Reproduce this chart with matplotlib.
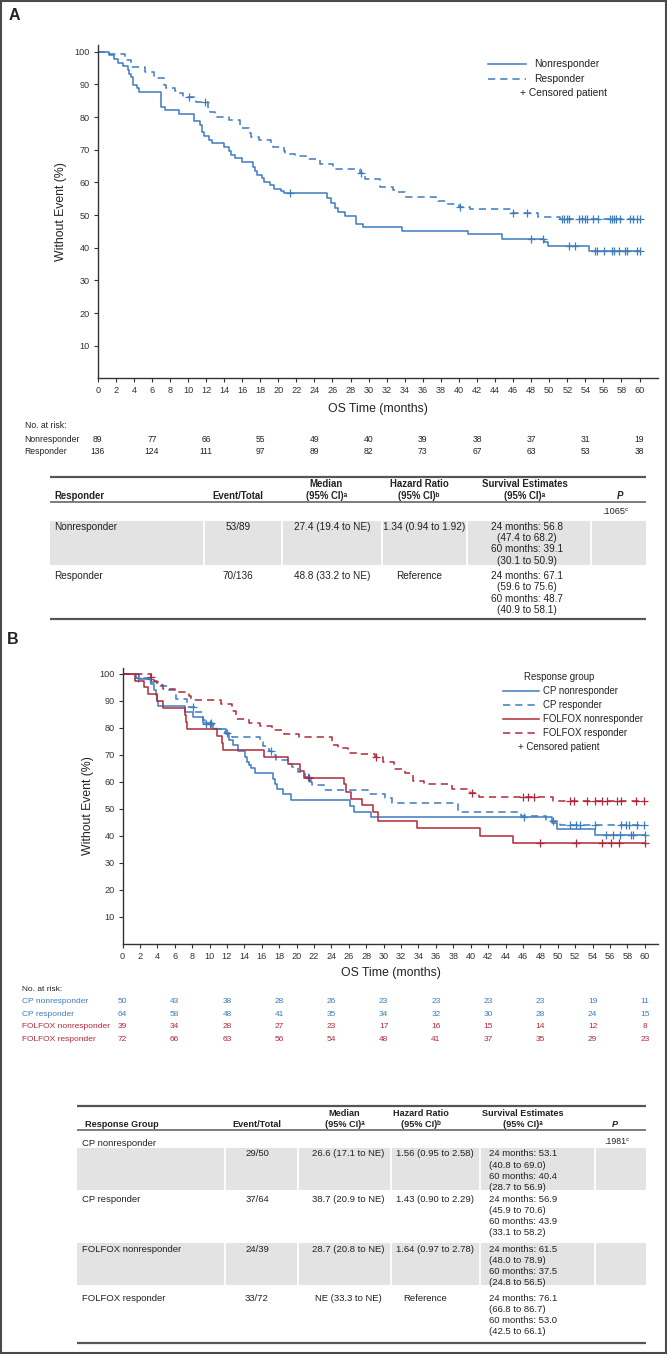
import numpy as np
import matplotlib
matplotlib.use("Agg")
import matplotlib.pyplot as plt
import matplotlib.transforms as mtransforms
from matplotlib.patches import Rectangle

plt.rcParams["font.family"] = ["Liberation Sans", "DejaVu Sans"]
plt.rcParams["lines.scale_dashes"] = False

# ------------------------------------------------------------------ data
# Panel A : step times (months) and survival (%) after each step
a_nr_time = [1.2, 1.8, 2.3, 2.8, 3.3, 3.5, 3.7, 3.9, 4.3, 4.6, 7.0, 7.5, 9.0,
             10.7, 11.3, 11.5, 11.8, 12.3, 12.7, 14.0, 14.5, 14.8, 15.2, 16.0,
             17.2, 17.4, 17.6, 18.2, 18.4, 19.1, 19.5, 20.3, 20.6, 25.4, 25.8,
             26.3, 26.6, 27.4, 28.6, 29.4, 33.7, 41.0, 44.8, 49.4, 49.9, 54.4]
a_nr_surv = [98.9, 97.8, 96.6, 95.5, 94.4, 93.3, 92.1, 89.9, 88.8, 87.6, 83.1,
             82.0, 80.9, 78.7, 77.5, 75.3, 74.2, 73.0, 71.9, 70.8, 69.7, 68.5,
             67.4, 66.1, 64.6, 63.4, 62.3, 61.2, 60.1, 59.1, 58.0, 57.4, 56.8,
             55.1, 53.6, 52.0, 51.0, 49.8, 47.4, 46.4, 45.2, 44.1, 42.8, 41.7,
             40.4, 39.1]
a_nr_cens = [21.3, 48.0, 49.3, 52.2, 52.9, 55.1, 55.3, 56.1, 57.0, 57.2, 57.7,
             58.4, 58.6, 59.7, 60.0]
a_r_time = [1.3, 3.0, 3.1, 3.7, 5.2, 6.2, 7.3, 7.6, 8.6, 8.9, 9.5, 10.9, 12.2,
            12.4, 13.0, 14.5, 15.8, 16.0, 16.8, 17.0, 17.9, 19.2, 19.4, 20.6,
            20.7, 21.9, 23.1, 24.6, 26.1, 26.3, 29.0, 29.6, 31.3, 32.7, 32.9,
            34.0, 37.5, 37.7, 38.7, 40.0, 41.2, 45.8, 48.8, 51.2]
a_r_surv = [99.3, 98.2, 97.5, 95.4, 93.9, 91.8, 89.8, 89.0, 88.1, 87.4, 86.0,
            84.5, 82.6, 81.6, 80.1, 79.1, 77.6, 76.5, 75.0, 74.0, 73.0, 71.6,
            70.9, 69.6, 68.6, 68.1, 67.1, 65.6, 64.6, 64.1, 62.8, 61.0, 58.7,
            57.7, 57.1, 55.6, 55.1, 54.3, 53.3, 52.6, 51.7, 50.5, 49.5, 48.7]
a_r_cens = [10.1, 11.9, 29.2, 40.1, 46.0, 47.5, 51.4, 51.6, 52.0, 52.2, 53.3,
            53.6, 54.0, 54.2, 54.8, 55.4, 56.7, 57.0, 57.2, 57.4, 57.8, 59.0,
            59.3, 59.7, 60.0]

# Panel B
b_cpnr_time = [1.9, 3.3, 3.6, 3.85, 4.0, 4.1, 7.2, 8.1, 9.2, 10.4, 11.9, 12.2,
               12.7, 13.3, 14.1, 14.3, 14.5, 14.8, 15.2, 17.3, 17.5, 17.8, 18.4,
               19.4, 26.1, 26.6, 28.6, 49.3, 49.9, 54.3]
b_cpnr_surv = [98.0, 96.0, 94.0, 92.0, 90.0, 88.0, 85.9, 83.8, 81.6, 79.5, 77.6,
               75.6, 73.5, 71.5, 69.3, 67.4, 66.2, 65.0, 63.3, 61.2, 59.3, 57.4,
               55.3, 53.1, 51.0, 49.0, 46.9, 44.9, 42.7, 40.4]
b_cpnr_cens = [3.2, 10.2, 46.1, 55.5, 56.3, 57.2, 58.4, 58.6, 60.0]
b_cpr_time = [1.5, 3.3, 4.2, 5.3, 6.1, 7.4, 8.3, 9.2, 9.5, 10.7, 11.8, 12.6,
              15.8, 16.1, 16.8, 17.2, 17.6, 19.2, 19.5, 20.2, 21.0, 21.6, 21.8,
              23.2, 28.2, 30.1, 31.0, 38.5, 45.8, 48.6, 50.2]
b_cpr_surv = [98.4, 96.9, 95.3, 93.8, 90.6, 87.5, 85.9, 82.8, 81.3, 79.7, 78.1,
              76.6, 74.9, 73.2, 71.5, 69.8, 68.1, 66.4, 65.5, 63.7, 61.8, 60.1,
              58.8, 57.0, 55.3, 53.9, 52.3, 48.9, 47.3, 45.5, 43.9]
b_cpr_cens = [1.8, 8.1, 9.6, 10.0, 12.0, 17.1, 21.3, 49.4, 51.4, 52.1, 52.6,
              54.3, 57.3, 57.8, 58.2, 59.1, 59.9]
b_fnr_time = [1.4, 2.5, 2.9, 4.0, 4.6, 7.2, 7.3, 7.4, 10.8, 11.4, 11.6, 16.2,
              19.0, 20.4, 20.9, 25.4, 25.7, 26.3, 27.5, 28.8, 29.3, 33.8, 41.1,
              44.9]
b_fnr_surv = [97.4, 94.9, 92.3, 89.7, 87.2, 84.6, 82.1, 79.5, 76.9, 74.4, 71.8,
              69.2, 66.6, 64.1, 61.5, 59.0, 56.4, 53.8, 51.3, 48.7, 45.4, 42.8,
              40.1, 37.5]
b_fnr_cens = [21.4, 48.0, 52.1, 55.1, 56.1, 57.0, 60.0]
b_fr_time = [3.3, 3.6, 4.0, 4.6, 6.0, 7.6, 7.9, 11.3, 12.6, 13.0, 14.5, 15.8,
             17.2, 18.6, 20.3, 24.1, 24.7, 25.9, 27.2, 29.0, 29.9, 31.2, 32.4,
             33.4, 34.6, 37.9, 39.9, 40.9, 49.4]
b_fr_surv = [98.6, 97.2, 95.8, 94.4, 93.1, 91.7, 90.3, 88.9, 86.1, 83.3, 81.9,
             80.6, 79.2, 77.8, 76.4, 73.6, 72.4, 70.8, 70.2, 69.0, 67.4, 64.9,
             63.1, 60.4, 59.1, 57.4, 55.8, 54.5, 53.0]
b_fr_cens = [3.3, 29.1, 40.1, 46.0, 46.6, 47.3, 51.4, 51.9, 53.4, 54.3, 55.1,
             55.6, 56.8, 57.3, 59.0, 59.9]

# Numbers at risk
risk_months = [0, 6, 12, 18, 24, 30, 36, 42, 48, 54, 60]
risk_a_nr = [89, 77, 66, 55, 49, 40, 39, 38, 37, 31, 19]
risk_a_r = [136, 124, 111, 97, 89, 82, 73, 67, 63, 53, 38]
risk_b_cpnr = [50, 43, 38, 28, 26, 23, 23, 23, 23, 19, 11]
risk_b_cpr = [64, 58, 48, 41, 35, 34, 32, 30, 28, 24, 15]
risk_b_fnr = [39, 34, 28, 27, 23, 17, 16, 15, 14, 12, 8]
risk_b_fr = [72, 66, 63, 56, 54, 48, 41, 37, 35, 29, 23]

x_ticks = list(range(0, 61, 2))
y_ticks = list(range(10, 101, 10))

# Tables
tab_a_groups = ["Nonresponder", "Responder"]
tab_a_events = ["53/89", "70/136"]
tab_a_median = ["27.4 (19.4 to NE)", "48.8 (33.2 to NE)"]
tab_a_hr = ["1.34 (0.94 to 1.92)", "Reference"]
tab_a_surv = [["24 months: 56.8", "(47.4 to 68.2)", "60 months: 39.1", "(30.1 to 50.9)"],
              ["24 months: 67.1", "(59.6 to 75.6)", "60 months: 48.7", "(40.9 to 58.1)"]]
tab_a_p = ".1065\u1d9c"

tab_b_groups = ["CP nonresponder", "CP responder", "FOLFOX nonresponder", "FOLFOX responder"]
tab_b_events = ["29/50", "37/64", "24/39", "33/72"]
tab_b_median = ["26.6 (17.1 to NE)", "38.7 (20.9 to NE)", "28.7 (20.8 to NE)", "NE (33.3 to NE)"]
tab_b_hr = ["1.56 (0.95 to 2.58)", "1.43 (0.90 to 2.29)", "1.64 (0.97 to 2.78)", "Reference"]
tab_b_surv = [["24 months: 53.1", "(40.8 to 69.0)", "60 months: 40.4", "(28.7 to 56.9)"],
              ["24 months: 56.9", "(45.9 to 70.6)", "60 months: 43.9", "(33.1 to 58.2)"],
              ["24 months: 61.5", "(48.0 to 78.9)", "60 months: 37.5", "(24.8 to 56.5)"],
              ["24 months: 76.1", "(66.8 to 86.7)", "60 months: 53.0", "(42.5 to 66.1)"]]
tab_b_p = ".1981\u1d9c"

# ------------------------------------------------------------------ style
W, H = 667, 1354
BLUE = "#3d7cbf"
RED = "#b2283b"
INK = "#222222"
AX = "#333333"
ROW = "#e3e3e3"
DASH = (0, (5.2, 3.6))

fig = plt.figure(figsize=(W / 100, H / 100), dpi=100)
ov = fig.add_axes([0, 0, 1, 1])
ov.set_xlim(0, W)
ov.set_ylim(H, 0)
ov.axis("off")


def px_axes(left, top, right, bottom):
    return fig.add_axes([left / W, 1 - bottom / H, (right - left) / W, (bottom - top) / H])


def style_axes(ax, xmax, ymax, xl_off, yl_off):
    ax.set_xlim(0, xmax)
    ax.set_ylim(0, ymax)
    ax.patch.set_alpha(0)
    for s in ("top", "right"):
        ax.spines[s].set_visible(False)
    for s in ("left", "bottom"):
        ax.spines[s].set_color(AX)
        ax.spines[s].set_linewidth(1.0)
    ax.set_xticks(x_ticks)
    ax.set_yticks(y_ticks)
    ax.tick_params(direction="out", length=3, width=0.8, color=AX,
                   labelsize=6.6, labelcolor=AX, pad=2.6)
    ax.set_xlabel("OS Time (months)", fontsize=8.8, color=INK)
    ax.set_ylabel("Without Event (%)", fontsize=8.8, color=INK)
    ax.xaxis.set_label_coords(0.5, xl_off)
    ax.xaxis.label.set_va("center")
    ax.yaxis.set_label_coords(yl_off, 0.5)
    ax.yaxis.label.set_va("center")


def km(ax, t, s, cens, color, ls):
    tt = [0.0] + list(t) + [60.0]
    ss = [100.0] + list(s) + [s[-1]]
    ax.step(tt, ss, where="post", color=color, lw=1.1, linestyle=ls)
    idx = np.searchsorted(np.array(tt), np.array(cens), side="right") - 1
    cy = np.array(ss)[idx]
    ax.plot(cens, cy, ls="none", marker="+", ms=5.5, mew=0.9, color=color)


# ------------------------------------------------------------------ panel A
axA = px_axes(97.7, 44.8, 658.4, 378.4)
style_axes(axA, 62.09, 102.1, -0.0926, -0.0658)
km(axA, a_nr_time, a_nr_surv, a_nr_cens, BLUE, "-")
km(axA, a_r_time, a_r_surv, a_r_cens, BLUE, DASH)

# legend A
ov.plot([488.3, 525.5], [64.3, 64.3], color=BLUE, lw=1.1)
ov.plot([488.3, 525.5], [79.3, 79.3], color=BLUE, lw=1.1, ls=DASH)
ov.text(534, 64.3, "Nonresponder", fontsize=7.4, color=INK, va="center")
ov.text(534, 79.3, "Responder", fontsize=7.4, color=INK, va="center")
ov.text(520, 93.5, "+ Censored patient", fontsize=7.4, color=INK, va="center", ha="left")

ov.text(14, 15.5, "A", fontsize=11.5, fontweight="bold", color=INK, ha="center", va="center")

# risk table A
trA = mtransforms.blended_transform_factory(axA.transData, ov.transData)
ov.text(24.7, 426, "No. at risk:", fontsize=6.2, color=INK, va="center")
for lab, vals, y in (("Nonresponder", risk_a_nr, 439), ("Responder", risk_a_r, 452)):
    ov.text(24.7, y, lab, fontsize=6.2, color=INK, va="center")
    for m, v in zip(risk_months, vals):
        ov.text(m, y, str(v), transform=trA, fontsize=6.2, color=INK, ha="center", va="center")

# table A
FA = 7.2
ov.plot([49.8, 645.5], [476.7, 476.7], color="#555555", lw=1.6, solid_capstyle="butt")
ov.plot([49.8, 645.5], [501.7, 501.7], color="#666666", lw=1.2, solid_capstyle="butt")
ov.plot([49.8, 645.5], [619.3, 619.3], color="#555555", lw=1.6, solid_capstyle="butt")
hdr = dict(fontsize=6.9, fontweight="bold", color=INK, va="center")
ov.text(54, 495.7, "Responder", ha="left", **hdr)
ov.text(238, 495.7, "Event/Total", ha="center", **hdr)
ov.text(326, 483.7, "Median", ha="center", **hdr)
ov.text(327, 495.7, "(95% CI)\u1d43", ha="center", **hdr)
ov.text(419, 483.7, "Hazard Ratio", ha="center", **hdr)
ov.text(419, 495.7, "(95% CI)\u1d47", ha="center", **hdr)
ov.text(524.5, 483.7, "Survival Estimates", ha="center", **hdr)
ov.text(524.5, 495.7, "(95% CI)\u1d43", ha="center", **hdr)
ov.text(620, 495.7, "P", ha="center", style="italic", **hdr)
ov.text(615, 511.7, tab_a_p, fontsize=6.6, color=INK, ha="center", va="center")
ov.add_patch(Rectangle((49.8, 520.7), 595.7, 44.3, fc=ROW, ec="none"))
for x in (204, 281.6, 382, 467, 591):
    ov.plot([x, x], [520.7, 565], color="white", lw=1.3)
rowsA = [526.7, 576.0]
for i, y in enumerate(rowsA):
    ov.text(54, y, tab_a_groups[i], fontsize=FA, color=INK, va="center")
    ov.text(238, y, tab_a_events[i], fontsize=FA, color=INK, va="center", ha="center")
    ov.text(332, y, tab_a_median[i], fontsize=FA, color=INK, va="center", ha="center")
    ov.text(424.5 if i == 0 else 419, y, tab_a_hr[i], fontsize=FA, color=INK,
            va="center", ha="center")
    for k, line in enumerate(tab_a_surv[i]):
        ov.text(527, y + k * 11.4, line, fontsize=FA, color=INK, va="center", ha="center")

# ------------------------------------------------------------------ panel B
ov.text(12.8, 639.2, "B", fontsize=11.5, fontweight="bold", color=INK, ha="center", va="center")
axB = px_axes(122.5, 667.7, 658.4, 944)
style_axes(axB, 61.56, 102.2, -0.106, -0.0644)
km(axB, b_cpnr_time, b_cpnr_surv, b_cpnr_cens, BLUE, "-")
km(axB, b_cpr_time, b_cpr_surv, b_cpr_cens, BLUE, DASH)
km(axB, b_fnr_time, b_fnr_surv, b_fnr_cens, RED, "-")
km(axB, b_fr_time, b_fr_surv, b_fr_cens, RED, DASH)

# legend B
ov.text(559, 676.7, "Response group", fontsize=6.9, color=INK, ha="center", va="center")
for y, lab, c, ls in ((690.7, "CP nonresponder", BLUE, "-"),
                      (704.7, "CP responder", BLUE, DASH),
                      (718.7, "FOLFOX nonresponder", RED, "-"),
                      (732.7, "FOLFOX responder", RED, DASH)):
    ov.plot([502.8, 539], [y, y], color=c, lw=1.1, ls=ls)
    ov.text(542.8, y, lab, fontsize=6.9, color=INK, va="center")
ov.text(518, 746.7, "+ Censored patient", fontsize=6.9, color=INK, va="center")

# risk table B
trB = mtransforms.blended_transform_factory(axB.transData, ov.transData)
ov.text(22.5, 989.3, "No. at risk:", fontsize=6.0, color=INK, va="center")
for lab, vals, y, c in (("CP nonresponder", risk_b_cpnr, 1001.7, BLUE),
                        ("CP responder", risk_b_cpr, 1014.3, BLUE),
                        ("FOLFOX nonresponder", risk_b_fnr, 1026.7, RED),
                        ("FOLFOX responder", risk_b_fr, 1039.3, RED)):
    ov.text(22.5, y, lab, fontsize=6.0, color=c, va="center")
    for m, v in zip(risk_months, vals):
        ov.text(m, y, str(v), transform=trB, fontsize=6.0, color=c, ha="center", va="center")

# table B
FB = 6.8
ov.plot([77.4, 645.7], [1106, 1106], color="#555555", lw=1.6, solid_capstyle="butt")
ov.plot([77.4, 645.7], [1130, 1130], color="#666666", lw=1.2, solid_capstyle="butt")
ov.plot([77.4, 645.7], [1342.7, 1342.7], color="#555555", lw=1.6, solid_capstyle="butt")
hdrB = dict(fontsize=6.6, fontweight="bold", color=INK, va="center")
ov.text(85, 1124.3, "Response Group", ha="left", **hdrB)
ov.text(257, 1124.3, "Event/Total", ha="center", **hdrB)
ov.text(344.5, 1113, "Median", ha="center", **hdrB)
ov.text(344.5, 1124.3, "(95% CI)\u1d43", ha="center", **hdrB)
ov.text(421, 1113, "Hazard Ratio", ha="center", **hdrB)
ov.text(421, 1124.3, "(95% CI)\u1d47", ha="center", **hdrB)
ov.text(523, 1113, "Survival Estimates", ha="center", **hdrB)
ov.text(523, 1124.3, "(95% CI)\u1d43", ha="center", **hdrB)
ov.text(614.6, 1124.3, "P", ha="center", style="italic", **hdrB)
ov.text(617, 1141.7, tab_b_p, fontsize=6.3, color=INK, ha="center", va="center")
for (y0, y1) in ((1148.3, 1190), (1243.3, 1285)):
    ov.add_patch(Rectangle((77.4, y0), 568.3, y1 - y0, fc=ROW, ec="none"))
    for x in (224.6, 297.7, 391.3, 479.8, 594.6):
        ov.plot([x, x], [y0, y1], color="white", lw=1.3)
label_y = [1143, 1199.3, 1249, 1298.7]
data_y = [1154, 1199.3, 1249, 1298.7]
for i in range(4):
    ov.text(81.7, label_y[i], tab_b_groups[i], fontsize=FB, color=INK, va="center")
    y = data_y[i]
    ov.text(257, y, tab_b_events[i], fontsize=FB, color=INK, va="center", ha="center")
    ov.text(348, y, tab_b_median[i], fontsize=FB, color=INK, va="center", ha="center")
    ov.text(434.7 if i < 3 else 425.3, y, tab_b_hr[i], fontsize=FB, color=INK,
            va="center", ha="center")
    for k, line in enumerate(tab_b_surv[i]):
        ov.text(489, y + k * 11.1, line, fontsize=FB, color=INK, va="center", ha="left")

# outer frame
ov.add_patch(Rectangle((1, 1), W - 2, H - 2, fill=False, ec="#4a4a4a", lw=1.5))

fig.savefig("out.png", dpi=100)
